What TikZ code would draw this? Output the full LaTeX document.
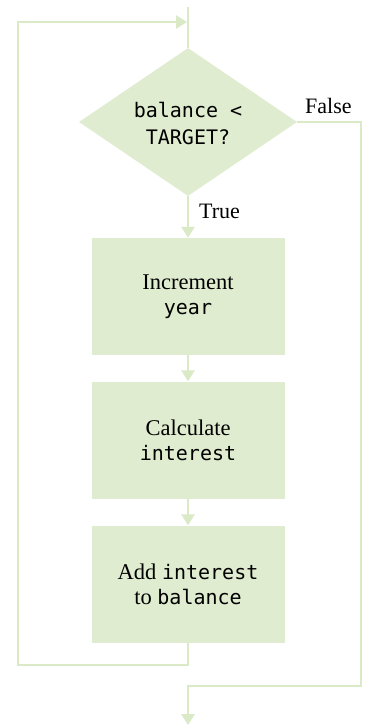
\documentclass[tikz,border=0pt]{standalone}
\usepackage{fontspec}
\setmainfont{Liberation Serif}
\newfontfamily\codefont{DejaVu Sans Mono}
\usetikzlibrary{shapes.geometric,arrows.meta}
\definecolor{fc}{RGB}{224,236,207}
\definecolor{lc}{RGB}{218,233,198}
\newcommand\cd[1]{{\codefont\fontsize{20}{25}\selectfont #1}}
\begin{document}
\begin{tikzpicture}[x=1pt,y=-1pt,
  flow/.style={draw=lc, line width=2.6pt},
  arr/.style={flow, -{Triangle[width=13pt,length=11pt]}},
  box/.style={fill=fc, minimum width=193pt, minimum height=117pt, inner sep=0pt,
    align=center, font=\fontsize{22.5}{25}\selectfont},
  dec/.style={diamond, fill=fc, minimum width=218pt, minimum height=148pt,
    inner sep=0pt, font=\codefont\fontsize{20}{27}\selectfont},
  lab/.style={font=\fontsize{22}{25}\selectfont, inner sep=0pt, anchor=base west}]
\useasboundingbox (0,0) rectangle (366,726);
\node[dec] (cond) at (188,122) {\raisebox{-9pt}[0pt][0pt]{\begin{tabular}{@{}c@{}}balance <\\TARGET?\end{tabular}}};
\node[box] (inc) at (188,296.5) {Increment\\\cd{year}};
\node[box] (calc) at (188,440) {Calculate\\\cd{interest}};
\node[box] (add) at (188,584) {Add \cd{interest}\\to \cd{balance}};
\coordinate (top) at (188,7);
\coordinate (loopin) at (187,22);
\coordinate (lb) at (188,665);
\coordinate (ll) at (18,665);
\coordinate (lt) at (18,22);
\coordinate (fr) at (361,122);
\coordinate (fb) at (361,686);
\coordinate (fm) at (188,686);
\coordinate (out) at (188,725);
\draw[flow] (top) -- (cond.north);
\draw[arr] (cond.south) -- (inc.north);
\draw[arr] (inc.south) -- (calc.north);
\draw[arr] (calc.south) -- (add.north);
\draw[arr, line join=miter] (add.south) -- (lb) -- (ll) -- (lt) -- (loopin);
\draw[arr, line join=miter] (cond.east) -- (fr) -- (fb) -- (fm) -- (out);
\node[lab] (f) at (305,113) {False};
\node[lab] (t) at (199,218) {True};
\end{tikzpicture}
\end{document}
